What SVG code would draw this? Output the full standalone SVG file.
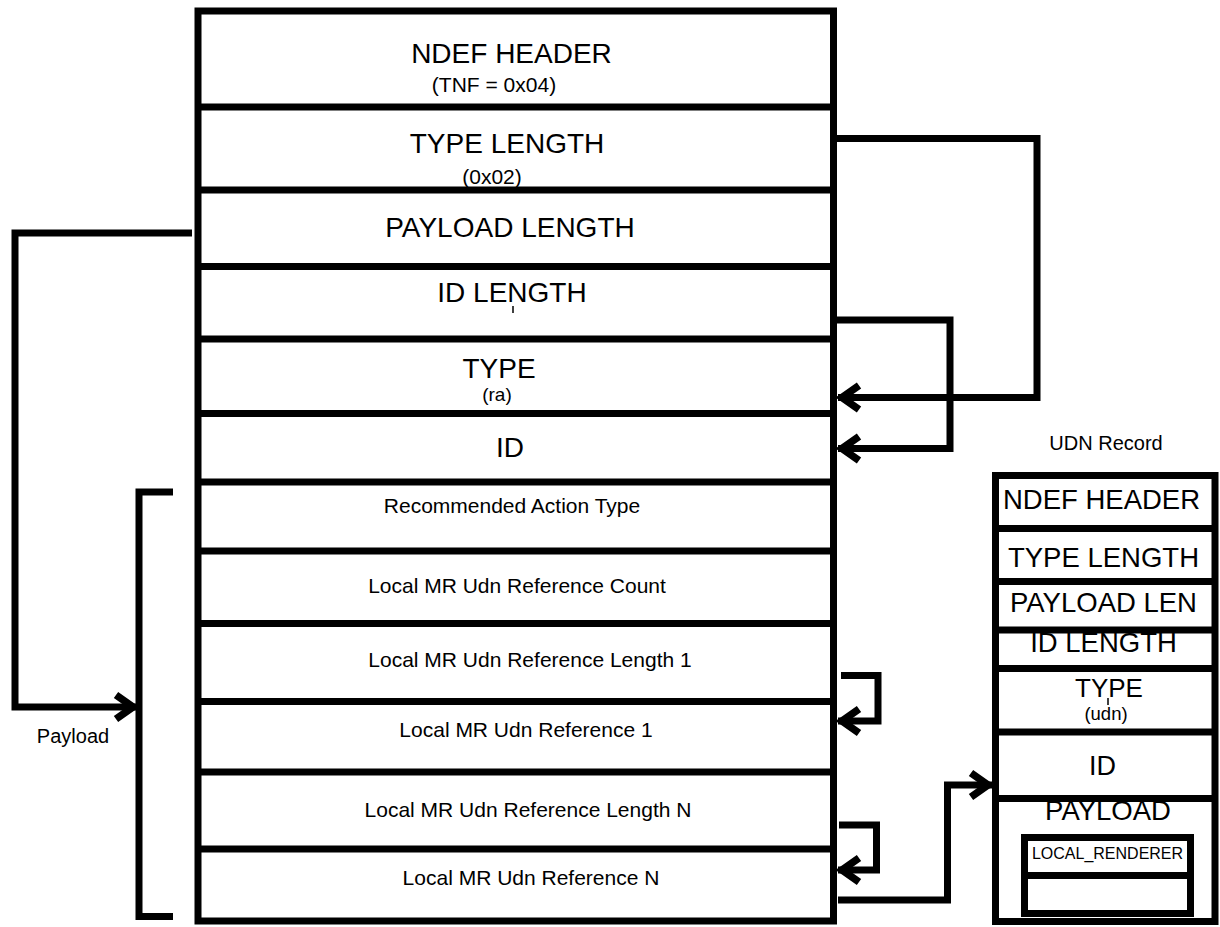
<svg xmlns="http://www.w3.org/2000/svg" width="1220" height="927" viewBox="0 0 1220 927">
<style>
  text { font-family: "Liberation Sans", Arial, sans-serif; fill: #000; text-anchor: middle; }
  .big { font-size: 28px; }
  .sm { font-size: 21px; }
  .frame { fill: none; stroke: #000; stroke-width: 7; }
  .div { stroke: #000; stroke-width: 7; }
  .conn { fill: none; stroke: #000; stroke-width: 7; stroke-linejoin: miter; }
  .tick { stroke: #000; stroke-width: 1.5; }
</style>
<defs>
  <marker id="arrow" markerUnits="userSpaceOnUse" markerWidth="40" markerHeight="40" refX="0" refY="0" viewBox="-30 -20 40 40" orient="auto" overflow="visible">
    <path d="M-21,-12 L-4,0 L-21,12" fill="none" stroke="#000" stroke-width="7.5" stroke-linejoin="miter"/>
  </marker>
</defs>
<rect width="1220" height="927" fill="#fff"/>

<g id="ra-record">
  <g id="ra-ndef-header"><text class="big" x="511.5" y="63">NDEF HEADER</text><text class="sm" x="494" y="92">(TNF = 0x04)</text></g>
  <g id="ra-type-length"><text class="big" x="507" y="153">TYPE LENGTH</text><text class="sm" x="492" y="184">(0x02)</text></g>
  <g id="ra-payload-length"><text class="big" x="510" y="237">PAYLOAD LENGTH</text></g>
  <g id="ra-id-length"><text class="big" x="512" y="302">ID LENGTH</text><line class="tick" x1="513" y1="306" x2="513" y2="313"/></g>
  <g id="ra-type"><text class="big" x="499" y="378">TYPE</text><text class="sm" x="497" y="401" style="font-size:19px">(ra)</text></g>
  <g id="ra-id"><text class="big" x="510" y="457">ID</text></g>
  <g id="ra-action-type"><text class="sm" x="512" y="513">Recommended Action Type</text></g>
  <g id="ra-ref-count"><text class="sm" x="517" y="593">Local MR Udn Reference Count</text></g>
  <g id="ra-ref-length-1"><text class="sm" x="530" y="667">Local MR Udn Reference Length 1</text></g>
  <g id="ra-ref-1"><text class="sm" x="526" y="737">Local MR Udn Reference 1</text></g>
  <g id="ra-ref-length-n"><text class="sm" x="528" y="817">Local MR Udn Reference Length N</text></g>
  <g id="ra-ref-n"><text class="sm" x="531" y="885">Local MR Udn Reference N</text></g>
  <g id="ra-frame">
    <rect class="frame" x="198" y="11" width="635.5" height="910"/>
    <line class="div" x1="198" y1="107" x2="833" y2="107"/>
    <line class="div" x1="198" y1="190" x2="833" y2="190"/>
    <line class="div" x1="198" y1="266.5" x2="833" y2="266.5"/>
    <line class="div" x1="198" y1="339" x2="833" y2="339"/>
    <line class="div" x1="198" y1="413.5" x2="833" y2="413.5"/>
    <line class="div" x1="198" y1="482" x2="833" y2="482"/>
    <line class="div" x1="198" y1="551" x2="833" y2="551"/>
    <line class="div" x1="198" y1="623.5" x2="833" y2="623.5"/>
    <line class="div" x1="198" y1="701.5" x2="833" y2="701.5"/>
    <line class="div" x1="198" y1="772" x2="833" y2="772"/>
    <line class="div" x1="198" y1="849" x2="833" y2="849"/>
  </g>
</g>

<g id="payload-bracket">
  <path class="conn" d="M173,492 H139 V916.5 H173"/>
  <text x="73" y="743" style="font-size:20px">Payload</text>
</g>

<g id="udn-record">
  <text x="1106" y="450" style="font-size:20px">UDN Record</text>
  <g id="udn-ndef-header"><text x="1101.5" y="509" style="font-size:27.5px">NDEF HEADER</text></g>
  <g id="udn-type-length"><text x="1103.5" y="567" style="font-size:27.5px">TYPE LENGTH</text></g>
  <g id="udn-payload-len"><text x="1103.5" y="612" style="font-size:27.5px">PAYLOAD LEN</text></g>
  <g id="udn-id-length"><text x="1103.5" y="652" style="font-size:27.5px">ID LENGTH</text></g>
  <g id="udn-type"><text x="1109" y="697" style="font-size:26px">TYPE</text><text x="1106" y="720" style="font-size:18.5px">(udn)</text><line class="tick" x1="1108" y1="698" x2="1108" y2="705"/></g>
  <g id="udn-id"><text x="1102.5" y="775" style="font-size:27px">ID</text></g>
  <g id="udn-payload"><text x="1108" y="820" style="font-size:27.5px">PAYLOAD</text>
    <g id="udn-local-renderer">
      <text x="1107.5" y="859" style="font-size:16px">LOCAL_RENDERER</text>
      <rect class="frame" x="1024.5" y="837.5" width="166" height="76"/>
      <line class="div" x1="1024.5" y1="875.5" x2="1190.5" y2="875.5"/>
    </g>
  </g>
  <g id="udn-frame">
    <rect class="frame" x="995.5" y="475.5" width="219.5" height="446"/>
    <line class="div" x1="995.5" y1="528.5" x2="1215" y2="528.5"/>
    <line class="div" x1="995.5" y1="581.5" x2="1215" y2="581.5"/>
    <line class="div" x1="995.5" y1="630" x2="1215" y2="630"/>
    <line class="div" x1="995.5" y1="668.5" x2="1215" y2="668.5"/>
    <line class="div" x1="995.5" y1="732" x2="1215" y2="732"/>
    <line class="div" x1="995.5" y1="798.5" x2="1215" y2="798.5"/>
  </g>
</g>

<g id="connectors">
  <path class="conn" d="M192,233 H15 V707 H137" marker-end="url(#arrow)"/>
  <path class="conn" d="M837,138.5 H1037 V397.5 H838" marker-end="url(#arrow)"/>
  <path class="conn" d="M837,320 H950 V448.5 H838" marker-end="url(#arrow)"/>
  <path class="conn" d="M841,675.5 H878 V721 H838" marker-end="url(#arrow)"/>
  <path class="conn" d="M839,825 H876.5 V870 H838" marker-end="url(#arrow)"/>
  <path class="conn" d="M838,900 H947.5 V785 H992" marker-end="url(#arrow)"/>
</g>
</svg>
